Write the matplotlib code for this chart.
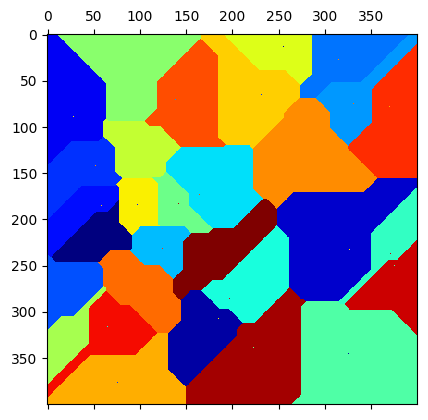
import numpy as np
import matplotlib
matplotlib.use('Agg')
import matplotlib.pyplot as plt

# Grid size
size = 400

# Seed points (column, row)
seed_x = [28, 99, 138, 231, 255, 315, 331, 370, 93, 52, 164, 280, 58, 97, 142,
          59, 124, 169, 327, 371, 375, 197, 103, 19, 24, 65, 185, 76, 223, 325]
seed_y = [89, 60, 70, 65, 13, 27, 75, 78, 126, 142, 173, 109, 185, 184, 183,
          198, 231, 246, 232, 237, 250, 285, 268, 295, 313, 316, 307, 376, 338, 345]

# Label of each region and of the seed pixel itself
region_label = [3, 15, 24, 20, 18, 7, 8, 25, 17, 5, 10, 22, 4, 19, 14,
                0, 9, 29, 2, 12, 27, 11, 23, 6, 16, 26, 1, 21, 28, 13]
dot_label = [19, 2, 8, 5, 1, 22, 23, 21, 0, 22, 24, 22, 20, 4, 28,
             19, 25, 17, 19, 27, 13, 27, 23, 22, 0, 11, 19, 5, 14, 1]

# Chebyshev distance voronoi
rows, cols = np.mgrid[0:size, 0:size]
dist = np.stack([np.maximum(np.abs(cols - x), np.abs(rows - y))
                 for x, y in zip(seed_x, seed_y)])
nearest = np.argmin(dist, axis=0)
img = np.array(region_label)[nearest]

# Mark the seeds
for x, y, d in zip(seed_x, seed_y, dot_label):
    img[y, x] = d

fig = plt.figure(figsize=(4.28, 4.2), dpi=100)
ax = fig.add_axes([0.11, 0.036, 0.864, 0.885])
ax.matshow(img, cmap='jet', vmin=0, vmax=29)

fig.savefig('out.png', dpi=100)
